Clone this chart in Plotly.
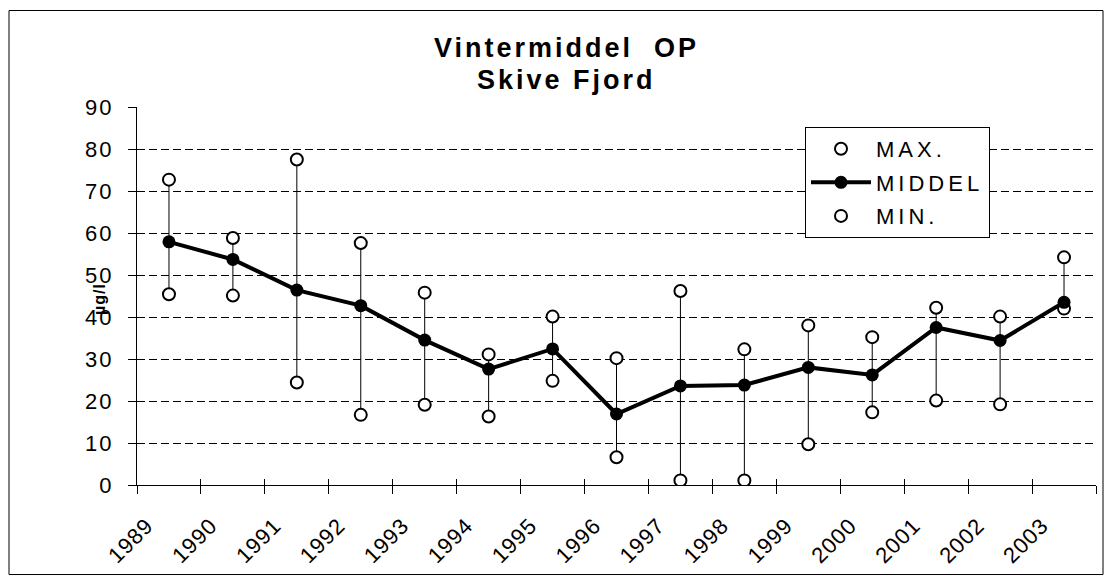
import plotly.graph_objects as go

years = ["1989", "1990", "1991", "1992", "1993", "1994", "1995", "1996",
         "1997", "1998", "1999", "2000", "2001", "2002", "2003"]
max_vals = [72.7, 58.8, 77.5, 57.6, 45.8, 31.1, 40.1, 30.2, 46.2, 32.3, 38.0, 35.2, 42.2, 40.1, 54.2]
mid_vals = [57.9, 53.7, 46.4, 42.7, 34.5, 27.6, 32.4, 16.9, 23.6, 23.8, 28.0, 26.2, 37.5, 34.4, 43.5]
min_vals = [45.4, 45.1, 24.4, 16.7, 19.1, 16.3, 24.8, 6.6, 1.1, 1.1, 9.7, 17.3, 20.1, 19.2, 42.0]
y_ticks = [0, 10, 20, 30, 40, 50, 60, 70, 80, 90]

title_lines = ["Vintermiddel  OP", "Skive Fjord"]
y_title = "µg/l"
names = ["MAX.", "MIDDEL", "MIN."]

FONT = "Liberation Sans, Arial, sans-serif"


def sp(text, px):
    return f'<span style="letter-spacing:{px}px">{text}</span>'


# whisker lines from min to max
wx, wy = [], []
for yr, lo, hi in zip(years, min_vals, max_vals):
    wx += [yr, yr, None]
    wy += [lo, hi, None]

fig = go.Figure()
fig.add_trace(go.Scatter(x=wx, y=wy, mode="lines", line=dict(color="black", width=1),
                         showlegend=False, hoverinfo="skip"))
fig.add_trace(go.Scatter(x=years, y=max_vals, mode="markers", name=sp(names[0], 4),
                         legendrank=1, legendgroup="a",
                         marker=dict(symbol="circle", size=12, color="white",
                                     line=dict(color="black", width=2))))
fig.add_trace(go.Scatter(x=years, y=min_vals, mode="markers", name=sp(names[2], 4),
                         legendrank=3, legendgroup="c",
                         marker=dict(symbol="circle", size=12, color="white",
                                     line=dict(color="black", width=2))))
fig.add_trace(go.Scatter(x=years, y=mid_vals, mode="lines+markers", name=sp(names[1], 4),
                         legendrank=2, legendgroup="b",
                         line=dict(color="black", width=4),
                         marker=dict(symbol="circle", size=13, color="black")))
# dummy trace for the overlay axis (inner half of crossing ticks)
fig.add_trace(go.Scatter(x=years, y=mid_vals, xaxis="x2", yaxis="y2", mode="markers",
                         marker=dict(opacity=0), showlegend=False, hoverinfo="skip"))

L, R, T, B = 137, 13, 107, 93
W, H = 1109, 580
pw, ph = W - L - R, H - T - B


def px_x(px):
    return (px - L) / pw


def px_y(py):
    return (H - B - py) / ph


title_font = dict(size=27, weight="bold", family=FONT, color="black")
annotations = [
    dict(text=sp(title_lines[0], 3), x=px_x(566), y=px_y(48), xref="paper", yref="paper",
         showarrow=False, xanchor="center", yanchor="middle", font=title_font),
    dict(text=sp(title_lines[1], 3), x=px_x(566), y=px_y(80), xref="paper", yref="paper",
         showarrow=False, xanchor="center", yanchor="middle", font=title_font),
    dict(text=sp(y_title, 1), x=px_x(100), y=px_y(300), xref="paper", yref="paper",
         textangle=-90, showarrow=False, xanchor="center", yanchor="middle",
         font=dict(size=16, weight="bold", family=FONT)),
]

fig.update_layout(
    width=W, height=H,
    margin=dict(l=L, r=R, t=T, b=B, pad=0),
    paper_bgcolor="white", plot_bgcolor="white",
    font=dict(family=FONT, color="black", size=20),
    xaxis=dict(type="category", categoryorder="array", categoryarray=years,
               range=[-0.5, len(years) - 0.5],
               tickson="boundaries", ticks="outside", ticklen=8, tickwidth=1,
               tickcolor="black", showline=True, linecolor="black", linewidth=1,
               showgrid=False, zeroline=False, tickangle=-45,
               tickvals=years, ticktext=[sp(y, 1) for y in years],
               tickfont=dict(size=22), ticklabelshift=-22, ticklabelstandoff=18),
    xaxis2=dict(type="category", overlaying="x", categoryorder="array", categoryarray=years,
                range=[-0.5, len(years) - 0.5],
                tickson="boundaries", ticks="inside", ticklen=6, tickwidth=1,
                tickcolor="black", showline=False, showgrid=False, zeroline=False,
                showticklabels=False),
    yaxis=dict(range=[0, 90], tickvals=y_ticks, ticktext=[sp(str(v), 2) for v in y_ticks],
               ticks="outside", ticklen=8, tickwidth=1, tickcolor="black",
               showline=True, linecolor="black", linewidth=1,
               showgrid=True, gridcolor="black", gridwidth=1, griddash="8px,4px",
               zeroline=False, tickfont=dict(size=22), ticklabelstandoff=10),
    yaxis2=dict(range=[0, 90], overlaying="y", tickvals=y_ticks, ticks="inside", ticklen=8,
                tickwidth=1, tickcolor="black", showline=False, showgrid=False,
                zeroline=False, showticklabels=False),
    legend=dict(x=px_x(805), y=px_y(127), xanchor="left", yanchor="top",
                bgcolor="white", bordercolor="black", borderwidth=1,
                font=dict(size=22, family=FONT), traceorder="grouped",
                tracegroupgap=2, itemwidth=60),
    annotations=annotations,
    shapes=[dict(type="rect", xref="paper", yref="paper",
                 x0=px_x(9), x1=px_x(1103), y0=px_y(577), y1=px_y(10),
                 line=dict(color="black", width=1), layer="below")],
    showlegend=True,
)

fig.write_html("out.html", config={"displayModeBar": False},
               post_script="document.body.style.margin='0';document.body.style.padding='0';")
